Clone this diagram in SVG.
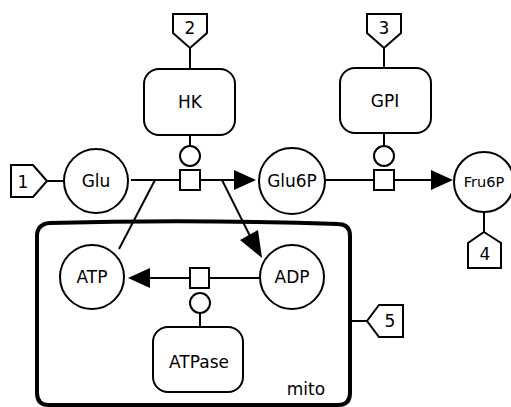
<svg xmlns="http://www.w3.org/2000/svg" width="511" height="407" viewBox="0 0 511 407">
<defs>
<style>
.s{fill:#fff;stroke:#000;stroke-width:2}
.l{fill:none;stroke:#000;stroke-width:2}
.t{font-family:"DejaVu Sans",sans-serif;font-size:17px;fill:#000;text-anchor:middle;dominant-baseline:central}
.ah{fill:#000;stroke:none}
</style>
</defs>
<rect width="511" height="407" fill="#fff"/>
<g id="mito">
<path d="M37,236 Q37,224 50,223 Q190,219 338,224 Q350,224 350,236 L350,393 Q350,405 338,405 L49,405 Q37,405 37,393 Z" fill="#fff" stroke="#000" stroke-width="4"/>
<text class="t" x="306" y="389">mito</text>
</g>
<g id="connectors">
<line class="l" x1="47" y1="181" x2="63" y2="181"/>
<line class="l" x1="190" y1="48" x2="190" y2="69"/>
<line class="l" x1="384" y1="48" x2="384" y2="68"/>
<line class="l" x1="484" y1="212" x2="484" y2="232"/>
<line class="l" x1="352" y1="321" x2="367" y2="321"/>
<line class="l" x1="190" y1="135" x2="190" y2="146"/>
<line class="l" x1="384" y1="133" x2="384" y2="146"/>
<line class="l" x1="200" y1="313" x2="200" y2="327"/>
<line class="l" x1="131" y1="180" x2="180" y2="180"/>
<line class="l" x1="200" y1="180" x2="234" y2="180"/>
<polygon class="ah" points="234,170 256,180 234,190"/>
<line class="l" x1="155" y1="180" x2="119" y2="249"/>
<line class="l" x1="222" y1="180" x2="250" y2="236"/>
<polygon class="ah" points="240,240 262,258 258,230"/>
<line class="l" x1="326" y1="180" x2="374" y2="180"/>
<line class="l" x1="394" y1="180" x2="431" y2="180"/>
<polygon class="ah" points="431,170 453,180 431,190"/>
<line class="l" x1="260" y1="278" x2="209" y2="278"/>
<line class="l" x1="190" y1="278" x2="150" y2="278"/>
<polygon class="ah" points="150,268 128,278 150,288"/>
<rect class="s" x="180" y="170" width="20" height="20"/>
<circle class="s" cx="190" cy="156" r="10"/>
<rect class="s" x="374" y="170" width="20" height="20"/>
<circle class="s" cx="384" cy="156" r="10"/>
<rect class="s" x="190" y="268" width="19" height="20"/>
<circle class="s" cx="200" cy="303" r="10"/>
</g>
<g id="tag1"><polygon class="s" points="11,165 33,165 47,181 33,197 11,197"/><text class="t" x="23" y="182">1</text></g>
<g id="tag2"><polygon class="s" points="173,14 207,14 207,33 190,48 173,33"/><text class="t" x="190" y="28">2</text></g>
<g id="tag3"><polygon class="s" points="367,14 401,14 401,33 384,48 367,33"/><text class="t" x="384" y="28">3</text></g>
<g id="tag4"><polygon class="s" points="484,232 501,243 501,268 468,268 468,243"/><text class="t" x="485" y="254">4</text></g>
<g id="tag5"><polygon class="s" points="367,321 379,305 403,305 403,337 379,337"/><text class="t" x="390" y="321">5</text></g>
<g id="HK"><rect class="s" x="144" y="69" width="91" height="66" rx="15"/><text class="t" x="190" y="102">HK</text></g>
<g id="GPI"><rect class="s" x="340" y="68" width="91" height="65" rx="15"/><text class="t" x="385" y="101">GPI</text></g>
<g id="ATPase"><rect class="s" x="153" y="327" width="90" height="65" rx="15"/><text class="t" x="199" y="362">ATPase</text></g>
<g id="Glu"><circle class="s" cx="96" cy="181" r="32"/><text class="t" x="96" y="181">Glu</text></g>
<g id="Glu6P"><circle class="s" cx="292" cy="181" r="33"/><text class="t" x="292" y="181">Glu6P</text></g>
<g id="Fru6P"><circle class="s" cx="484" cy="182" r="30"/><text class="t" x="484" y="182" style="font-size:14.5px">Fru6P</text></g>
<g id="ATP"><circle class="s" cx="92" cy="277" r="32"/><text class="t" x="92" y="277">ATP</text></g>
<g id="ADP"><circle class="s" cx="292" cy="277" r="32"/><text class="t" x="292" y="277">ADP</text></g>
</svg>
